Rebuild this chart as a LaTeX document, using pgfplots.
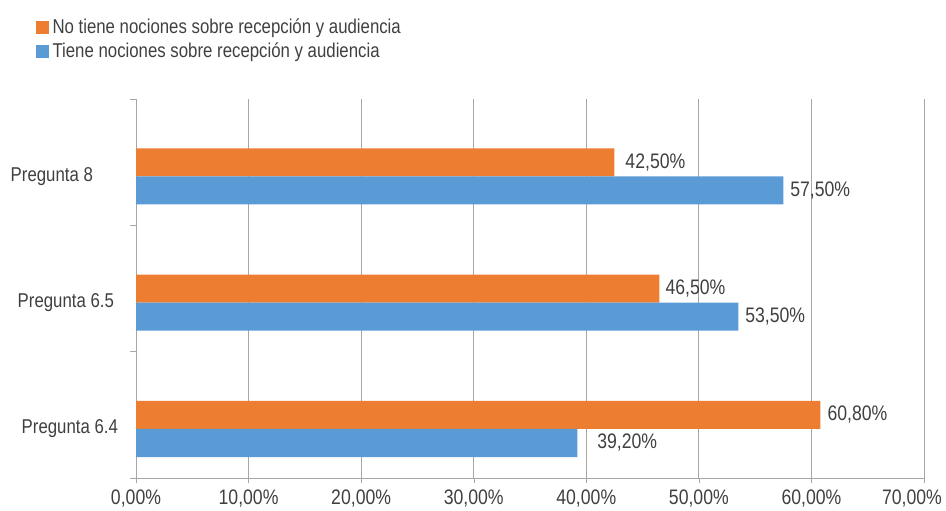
\documentclass[border=0pt]{standalone}
\usepackage{fontspec}
\setmainfont{Liberation Sans}[FakeStretch=0.84]
\usepackage{pgfplots}
\usepackage{pgfplotstable}
\pgfplotsset{compat=1.18}
\definecolor{cOrange}{HTML}{ED7D31}
\definecolor{cBlue}{HTML}{5B9BD5}
\definecolor{cGrid}{HTML}{A6A6A6}
\definecolor{cText}{HTML}{404040}
\pgfplotstableread{
x y s
60.8 0 0
46.5 1 -0.5
42.5 2 2
}\orange
\pgfplotstableread{
x y s
39.2 0 6.5
53.5 1 0
57.5 2 0
}\blue
\begin{document}
\begin{tikzpicture}
\path[use as bounding box] (0,0) rectangle (473pt,-255pt);
\begin{axis}[
  at={(68pt,-239pt)}, anchor=south west,
  scale only axis, width=394pt, height=189.5pt,
  xbar, bar width=14pt,
  xmin=0, xmax=70, ymin=-0.388, ymax=2.612,
  xtick={0,10,...,70},
  xticklabels={{0,00\%},{10,00\%},{20,00\%},{30,00\%},{40,00\%},{50,00\%},{60,00\%},{\kern-6pt 70,00\%\kern6pt\null}},
  ytick={0,1,2},
  yticklabels={{Pregunta 6.4},{Pregunta 6.5\kern2pt\null},{Pregunta 8\kern12.5pt\null}},
  minor ytick={-0.388,0.612,1.612,2.612},
  major y tick style={draw=none},
  minor y tick style={draw=cGrid},
  major x tick style={draw=cGrid},
  tick align=outside, major tick length=2.5pt, minor tick length=3pt,
  xmajorgrids, grid style={draw=cGrid, line width=0.5pt},
  axis x line*=bottom, axis y line*=left,
  axis line style={draw=cGrid, -, line width=0.5pt},
  every tick label/.append style={font=\fontsize{10.5}{12}\selectfont, text=cText},
  yticklabel style={font=\fontsize{10}{12}\selectfont, text=cText, xshift=-3pt},
  /pgf/number format/assume math mode=true,
  visualization depends on={\thisrow{s} \as \labelshift},
  nodes near coords={\pgfmathprintnumber[fixed,fixed zerofill,precision=2,use comma]{\pgfplotspointmeta}\%},
  nodes near coords align={horizontal},
  every node near coord/.append style={font=\fontsize{10.5}{12}\selectfont, text=cText, anchor=west, xshift=\labelshift pt},
  legend style={at={(-0.128,1.224)}, anchor=north west, draw=none, fill=none,
    font=\fontsize{10}{12}\selectfont, text=cText, inner sep=0pt,
    row sep=-0.7pt, cells={anchor=west}},
  legend image code/.code={\fill[#1] (0pt,-3.25pt) rectangle (6.5pt,3.25pt);},
  legend cell align=left,
]
\addplot[fill=cOrange, draw=none, bar shift=7pt] table[x=x, y=y] {\orange};
\addlegendentry{No tiene nociones sobre recepción y audiencia}
\addplot[fill=cBlue, draw=none, bar shift=-7pt] table[x=x, y=y] {\blue};
\addlegendentry{Tiene nociones sobre recepción y audiencia}
\end{axis}
\end{tikzpicture}
\end{document}
